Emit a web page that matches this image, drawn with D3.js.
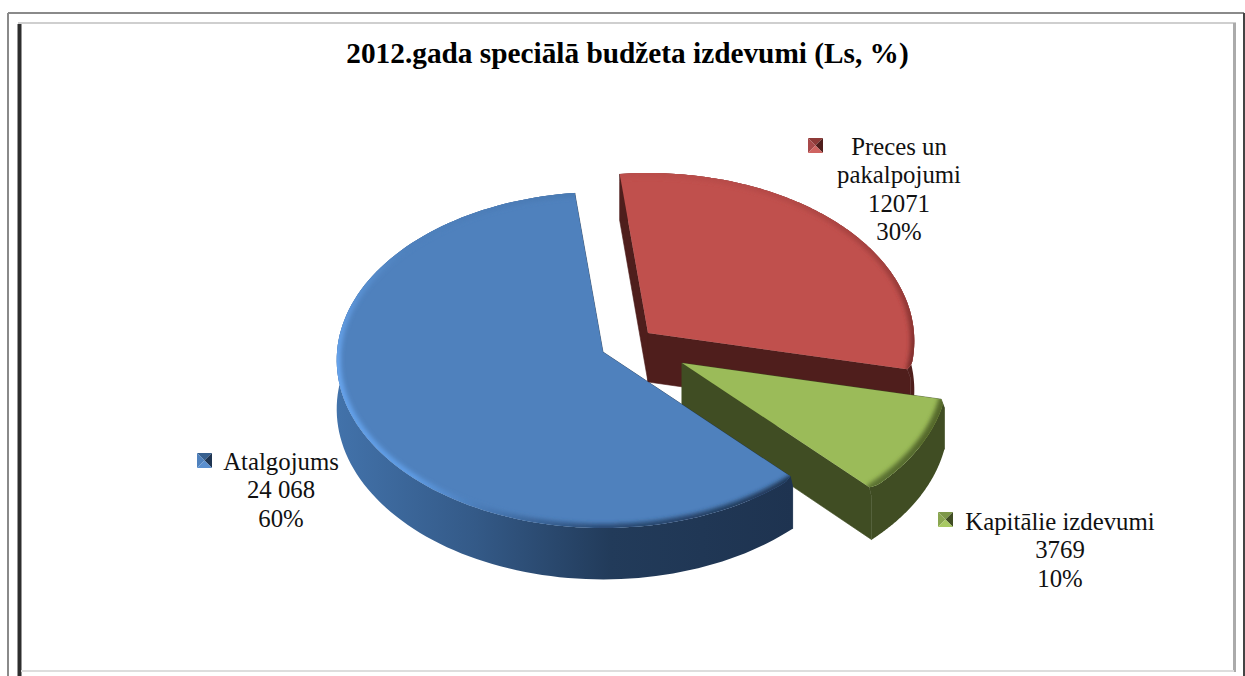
<!DOCTYPE html>
<html>
<head>
<meta charset="utf-8">
<script src="https://cdn.jsdelivr.net/npm/d3@7"></script>
<style>
  html, body { margin: 0; padding: 0; background: #fff; }
  svg { display: block; }
  .title { font: bold 29.3px "Liberation Serif", serif; fill: #000; }
  .label { font: 24.8px "Liberation Serif", serif; fill: #111; }
</style>
</head>
<body>
<div id="chart"></div>
<script>
// Data
const title = '2012.gada speciālā budžeta izdevumi (Ls, %)';
const categoryLines = [['Atalgojums'], ['Preces un', 'pakalpojumi'], ['Kapitālie izdevumi']];
const values = [24068, 12071, 3769];
const valueLabels = ['24 068', '12071', '3769'];
const percentLabels = ['60%', '30%', '10%'];

// Slice colours: top face, side wall, bevel along the rim (by angle progress)
const topColors = ['#4f81bd', '#c0504d', '#9bbb59'];
const wallColors = ['#1f3552', '#4f1e1c', '#404d23'];
const bevelColors = [
    ['#1f3552', '#2a4a74', '#5f9ce4', '#68a5ee', '#4f81bd', '#4a7ab3'],
    ['#bb4e4b', '#b54a47', '#a03f3d', '#7c2e2c'],
    ['#55692d', '#55692d', '#5c7232']
];
// Which ends of each rim get a rounded corner [start, end]
const roundedEnds = [[true, false], [false, true], [true, true]];

// Layout
const width = 1245, height = 676;
const center = { x: 603, y: 352 };
const radius = { x: 266, y: 167.6 };
const perspective = 0.0476;
const depth = 49;
const startDeg = 136.5;
const cornerDeg = 3;
const cornerPull = 0.012;
const offsets = [{ x: 0, y: 0 }, { x: 45, y: -19 }, { x: 79, y: 11 }];
const labelPos = [{ x: 281, y: 470 }, { x: 899, y: 155 }, { x: 1060, y: 530 }];
const keyPos = [{ x: 197, y: 453 }, { x: 808, y: 138 }, { x: 938, y: 512 }];
const lineGap = 28.4;

const svg = d3.select('#chart').append('svg')
    .attr('width', width)
    .attr('height', height);
const defs = svg.append('defs');

// Frame
const frame = svg.append('g').attr('class', 'frame');
const frameLine = (x1, y1, x2, y2, color, w) => frame.append('line')
    .attr('x1', x1).attr('y1', y1).attr('x2', x2).attr('y2', y2)
    .attr('stroke', color).attr('stroke-width', w);
frameLine(8, 13, 1244, 13, '#8a8a8a', 2);
frameLine(8, 13, 8, height, '#8a8a8a', 2);
frameLine(1244, 13, 1244, height, '#444', 2);
frameLine(18, 23, 1236, 23, '#cfcfcf', 2);
frameLine(19.5, 24, 19.5, height, '#2e2e2e', 4);
frameLine(1234.5, 23, 1234.5, 672, '#ababab', 3);
frameLine(21, 671, 1234, 671, '#dddddd', 2);

// Pie angles come from the values
const pie = d3.pie().sort(null).value(d => d)
    .startAngle(startDeg * Math.PI / 180)
    .endAngle((startDeg + 360) * Math.PI / 180);
const slices = pie(values);

// Tilted disc with a little perspective: near side is bigger than far side
function project(theta, r, off, dz) {
    const u = r * Math.sin(theta);
    const v = -r * Math.cos(theta);
    const d = 1 - perspective * v;
    return [center.x + off.x + u * radius.x / d, center.y + off.y + v * radius.y / d + dz / d];
}

const line = d3.line();
const arcAngles = s => d3.range(0, 121).map(i => s.startAngle + (s.endAngle - s.startAngle) * i / 120);

// Pull the rim in near a rounded corner of the top face
function rimRadius(a, s, ends) {
    const corner = cornerDeg * Math.PI / 180;
    let r = 1;
    if (ends[0] && a - s.startAngle < corner) r -= cornerPull * Math.pow(1 - (a - s.startAngle) / corner, 2);
    if (ends[1] && s.endAngle - a < corner) r -= cornerPull * Math.pow(1 - (s.endAngle - a) / corner, 2);
    return r;
}

// Side gradient on the blue wall
const blueWall = defs.append('linearGradient')
    .attr('id', 'wall-0')
    .attr('gradientUnits', 'userSpaceOnUse')
    .attr('x1', 337).attr('x2', 793).attr('y1', 0).attr('y2', 0);
[[0, '#4272aa'], [0.3, '#345a88'], [0.6, '#223b5a'], [1, '#1e3350']].forEach(([o, c]) => {
    blueWall.append('stop').attr('offset', o).attr('stop-color', c);
});

defs.append('filter').attr('id', 'soft')
    .attr('x', '-10%').attr('y', '-10%').attr('width', '120%').attr('height', '120%')
    .append('feGaussianBlur').attr('stdDeviation', 2.2);

// Back to front: red, green, blue
[1, 2, 0].forEach(i => {
    const s = slices[i];
    const off = offsets[i];
    const g = svg.append('g').attr('class', 'slice');
    const angles = arcAngles(s);
    const rim = angles.map(a => project(a, 1, off, 0));
    const topRim = angles.map(a => project(a, rimRadius(a, s, roundedEnds[i]), off, 0));
    const wallFill = i === 0 ? 'url(#wall-0)' : wallColors[i];

    // Cut walls
    [s.startAngle, s.endAngle].forEach(a => {
        const apexTop = project(a, 0, off, 0);
        const apexBottom = project(a, 0, off, depth);
        const edgeTop = project(a, rimRadius(a, s, roundedEnds[i]), off, 0);
        g.append('path')
            .attr('d', line([apexTop, edgeTop, project(a, 1, off, 8), project(a, 1, off, depth), apexBottom]) + 'Z')
            .attr('fill', wallColors[i])
            .attr('stroke', wallColors[i])
            .attr('stroke-width', 0.6);
    });

    // Outer wall, straight down below the rounded corners
    const rimBottom = angles.map(a => project(a, 1, off, depth)).reverse();
    const wallOutline = topRim
        .concat([project(s.endAngle, 1, off, 8)])
        .concat(rimBottom)
        .concat([project(s.startAngle, 1, off, 8)]);
    g.append('path')
        .attr('d', line(wallOutline) + 'Z')
        .attr('fill', wallFill);

    // Top face
    const topPath = line([project(0, 0, off, 0)].concat(topRim)) + 'Z';
    g.append('path').attr('d', topPath).attr('fill', topColors[i]);

    // Bevel along the rim, clipped to the top face
    defs.append('clipPath').attr('id', 'top-' + i).append('path').attr('d', topPath);
    const bevelScale = d3.scaleLinear()
        .domain(d3.range(bevelColors[i].length).map(k => k / (bevelColors[i].length - 1)))
        .range(bevelColors[i]);
    const bevel = g.append('g').attr('clip-path', `url(#top-${i})`)
        .append('g').attr('filter', 'url(#soft)');
    d3.range(0, rim.length - 1).forEach(k => {
        bevel.append('path')
            .attr('d', line([rim[k], rim[k + 1]]))
            .attr('fill', 'none')
            .attr('stroke', bevelScale(k / (rim.length - 1)))
            .attr('stroke-linecap', 'round')
            .attr('stroke-width', i === 2 ? 11 : 8);
    });
});

// Title
svg.append('text')
    .attr('class', 'title')
    .attr('x', 627.5)
    .attr('y', 63)
    .attr('text-anchor', 'middle')
    .text(title);

// Data labels with their small pyramid keys
const keyShades = [
    ['#37608f', '#4f81bd', '#1f3552', '#5a8fcf'],
    ['#8e3a38', '#a8494a', '#4f1e1c', '#cf6461'],
    ['#7d9748', '#8aa650', '#404d23', '#a8c963']
];
categoryLines.forEach((lines, i) => {
    const rows = lines.concat([valueLabels[i], percentLabels[i]]);
    const text = svg.append('text')
        .attr('class', 'label')
        .attr('text-anchor', 'middle');
    rows.forEach((row, k) => {
        text.append('tspan')
            .attr('x', labelPos[i].x)
            .attr('y', labelPos[i].y + k * lineGap)
            .text(row);
    });

    const size = 15;
    const { x, y } = keyPos[i];
    const mid = [x + size / 2, y + size / 2];
    const corners = [[x, y], [x + size, y], [x + size, y + size], [x, y + size]];
    // top, left, right, bottom triangles
    const tris = [[corners[0], corners[1]], [corners[3], corners[0]], [corners[1], corners[2]], [corners[2], corners[3]]];
    tris.forEach((t, k) => {
        svg.append('path')
            .attr('d', line([t[0], t[1], mid]) + 'Z')
            .attr('fill', keyShades[i][k]);
    });
});
</script>
</body>
</html>
